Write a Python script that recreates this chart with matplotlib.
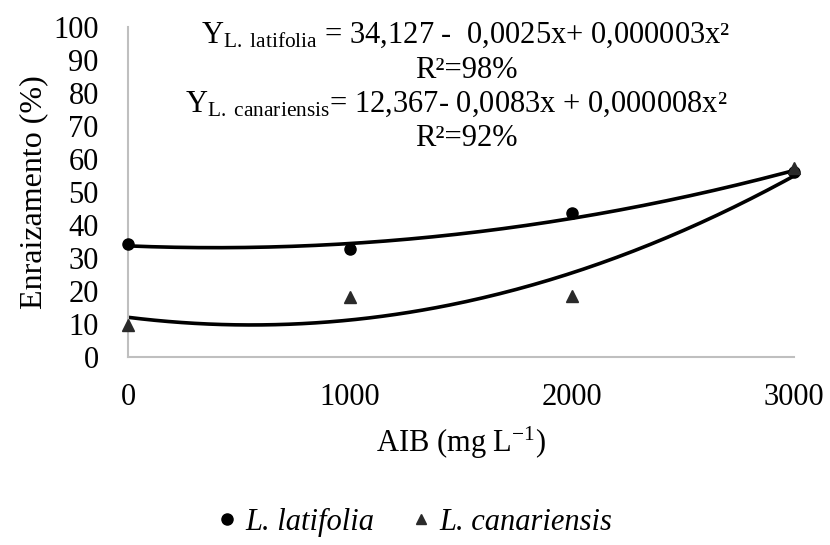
import numpy as np
import matplotlib
matplotlib.use("Agg")
import matplotlib.pyplot as plt
from matplotlib.lines import Line2D

plt.rcParams["font.family"] = "Liberation Serif"
plt.rcParams["mathtext.fontset"] = "custom"
plt.rcParams["mathtext.rm"] = "Liberation Serif"
plt.rcParams["mathtext.it"] = "Liberation Serif:italic"

# data
aib = [0, 1000, 2000, 3000]
latifolia = [34.2, 32.8, 43.6, 56.0]
canariensis = [9.7, 18.2, 18.5, 57.2]

fig = plt.figure(figsize=(8.3, 5.45), dpi=100)
ax = fig.add_axes([128 / 830, 1 - 357 / 545, (794 - 128) / 830, (357 - 27) / 545])

# quadratic trendlines, as in the spreadsheet
xs = np.linspace(0, 3000, 200)
c1 = np.polyfit(aib, latifolia, 2)
c2 = np.polyfit(aib, canariensis, 2)
ax.plot(xs, np.polyval(c1, xs), color="black", lw=2.6, zorder=2)
ax.plot(xs, np.polyval(c2, xs), color="black", lw=2.6, zorder=2)

ax.plot(aib, latifolia, "o", color="black", ms=8, zorder=3, clip_on=False)
ax.plot(aib, canariensis, "^", color="#2a2a2a", ms=8, zorder=3, clip_on=False)

ax.set_xlim(0, 3000)
ax.set_ylim(0, 100)
ax.set_xticks([0, 1000, 2000, 3000])
ax.set_yticks(range(0, 101, 10))
ax.tick_params(length=0, labelsize=22)
ax.tick_params(axis="y", pad=21)
ax.tick_params(axis="x", pad=19)
for s in ["top", "right"]:
    ax.spines[s].set_visible(False)
for s in ["left", "bottom"]:
    ax.spines[s].set_color("#bfbfbf")
    ax.spines[s].set_linewidth(1.5)

ax.set_ylabel("Enraizamento (%)", fontsize=23, labelpad=4)
ax.set_xlabel("AIB (mg L$^{\\mathrm{-1}}$)", fontsize=22, labelpad=9)

eq = dict(fontsize=22, ha="center", va="center", transform=fig.transFigure)
fig.text(466 / 830, 1 - 35 / 545,
         "Y$_{\\mathrm{L.\\ latifolia}}$ = 34,127 -  0,0025x+ 0,000003x\u00b2", **eq)
fig.text(466 / 830, 1 - 70 / 545, "R\u00b2=98%", **eq)
fig.text(456 / 830, 1 - 104 / 545,
         "Y$_{\\mathrm{L.\\ canariensis}}$= 12,367- 0,0083x + 0,000008x\u00b2", **eq)
fig.text(466 / 830, 1 - 138 / 545, "R\u00b2=92%", **eq)

handles = [
    Line2D([], [], marker="o", ls="none", color="black", ms=8),
    Line2D([], [], marker="^", ls="none", color="#2a2a2a", ms=7),
]
fig.legend(handles, ["L. latifolia", "L. canariensis"], loc="center",
           bbox_to_anchor=(412 / 830, 1 - 522 / 545), ncol=2, frameon=False,
           handletextpad=0.1, columnspacing=1.0, handlelength=1,
           prop={"family": "Liberation Serif", "style": "italic", "size": 22})

fig.savefig("out.png", dpi=100)
